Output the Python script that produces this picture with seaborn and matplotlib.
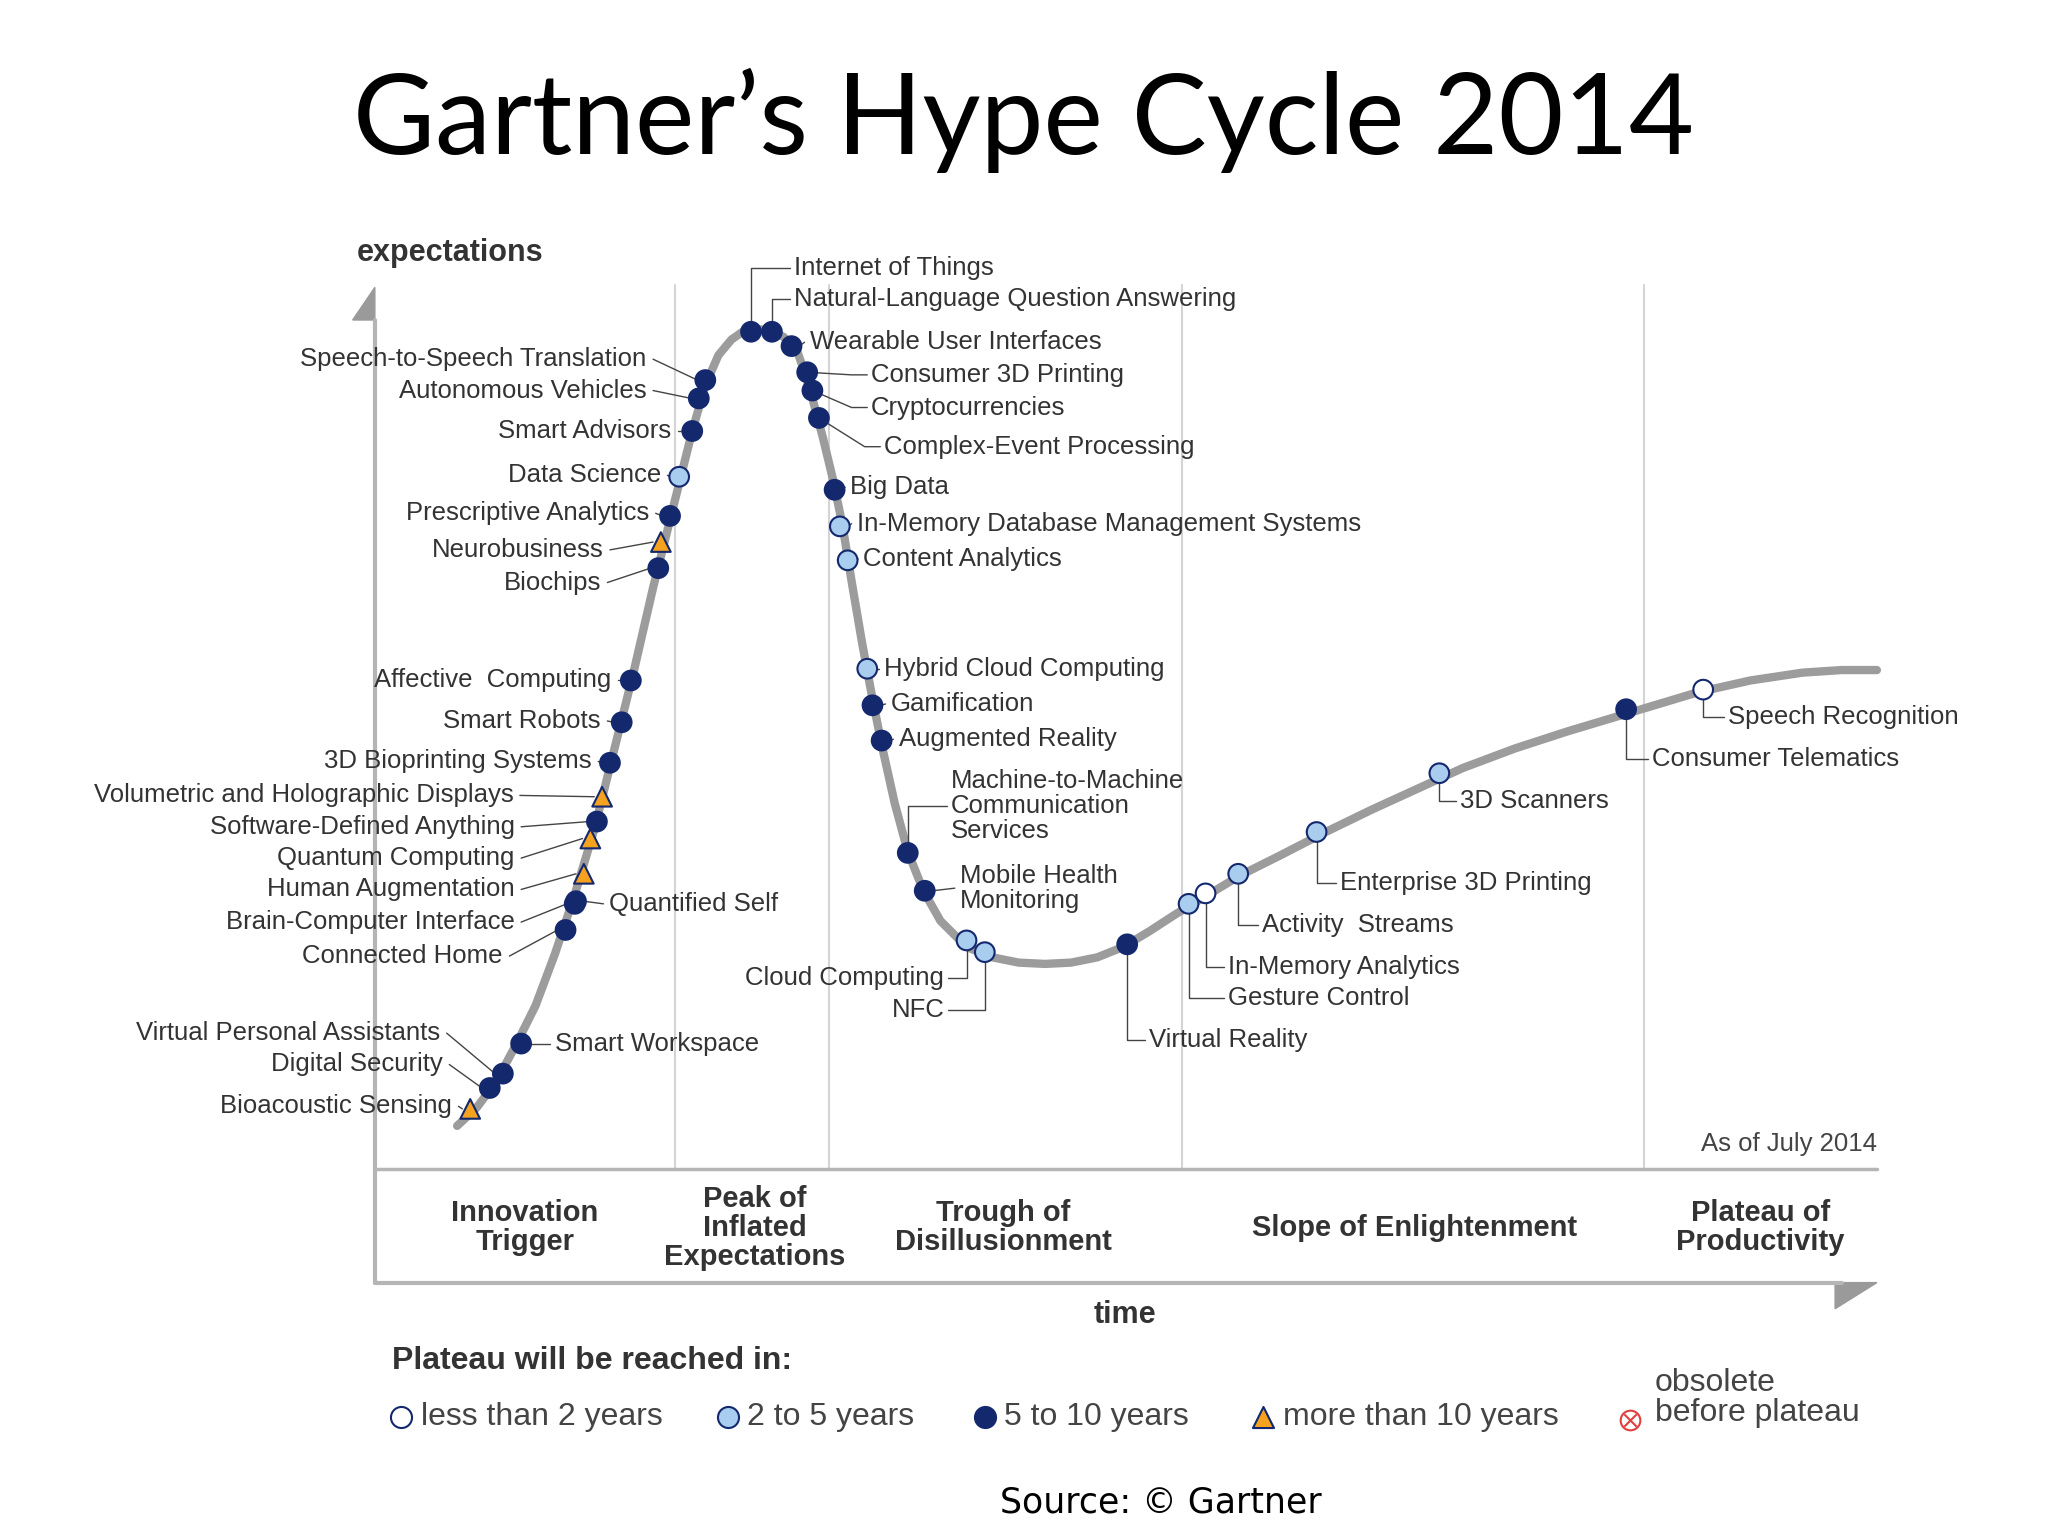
import matplotlib
matplotlib.use("Agg")
import matplotlib.pyplot as plt
import seaborn as sns
import pandas as pd

sns.set_theme(style="white")
plt.rcParams['font.family'] = ['Liberation Sans', 'DejaVu Sans']

# Hype curve anchor points (time, expectations) in chart units
curve_x = [350,365,380,395,410,425,440,455,470,485,500,510,520,530,540,550,560,570,580,590,600,610,615,622,630,638,645,652,660,668,675,685,695,707,720,740,760,780,800,820,840,860,880,900,920,950,980,1015,1050,1085,1120,1160,1200,1250,1300,1340,1380,1410,1437]
curve_y = [862,848,828,800,770,730,685,635,575,515,450,410,370,330,295,272,260,253,252,253,258,268,282,305,335,368,402,445,492,535,570,615,652,682,705,725,733,737,738,737,733,725,713,700,688,670,655,637,620,604,588,573,560,545,530,521,515,513,513]

names = ["Speech-to-Speech Translation","Autonomous Vehicles","Smart Advisors","Data Science",
         "Prescriptive Analytics","Neurobusiness","Biochips","Affective  Computing","Smart Robots",
         "3D Bioprinting Systems","Volumetric and Holographic Displays","Software-Defined Anything",
         "Quantum Computing","Human Augmentation","Brain-Computer Interface","Connected Home",
         "Virtual Personal Assistants","Digital Security","Bioacoustic Sensing","Quantified Self",
         "Smart Workspace","Internet of Things","Natural-Language Question Answering",
         "Wearable User Interfaces","Consumer 3D Printing","Cryptocurrencies","Complex-Event Processing",
         "Big Data","In-Memory Database Management Systems","Content Analytics","Hybrid Cloud Computing",
         "Gamification","Augmented Reality","Machine-to-Machine\nCommunication\nServices",
         "Mobile Health\nMonitoring","Cloud Computing","NFC","Virtual Reality","Gesture Control",
         "In-Memory Analytics","Activity  Streams","Enterprise 3D Printing","3D Scanners",
         "Consumer Telematics","Speech Recognition"]
pos_x = [540,535,530,520,513,506,504,483,476,467,461,457,452,447,440,433,385,375,360,441,399,
         575,591,606,618,622,627,639,643,649,664,668,675,695,708,740,754,863,910,923,948,1008,1102,1245,1304]
pos_y = [291,305,330,365,395,415,435,521,553,584,610,629,642,669,692,712,822,833,849,690,799,
         254,254,265,285,299,320,375,403,429,512,540,567,653,682,720,729,723,692,684,669,637,592,543,528]
plateau = ["5-10","5-10","5-10","2-5","5-10",">10","5-10","5-10","5-10","5-10",">10","5-10",">10",">10",
           "5-10","5-10","5-10","5-10",">10","5-10","5-10","5-10","5-10","5-10","5-10","5-10","5-10",
           "5-10","2-5","2-5","2-5","5-10","5-10","5-10","5-10","2-5","2-5","5-10","2-5","<2","2-5",
           "2-5","2-5","5-10","<2"]
lab = [(495,275,"L"),(495,299,"L"),(514,330,"L"),(506,364,"L"),(497,393,"L"),(462,421,"L"),(460,446,"L"),
       (468,521,"L"),(460,552,"L"),(453,583,"L"),(393,609,"L"),(394,633,"L"),(394,657,"L"),(394,681,"L"),
       (394,706,"L"),(385,732,"L"),(337,791,"L"),(339,815,"L"),(346,847,"L"),(466,692,"R"),(425,799,"R"),
       (608,205,"VR"),(608,229,"VR"),(620,262,"R"),(667,287,"VR2"),(667,312,"VR2"),(677,342,"VR2"),
       (651,373,"R"),(656,401,"R"),(661,428,"R"),(677,512,"R"),(682,539,"R"),(688,566,"R"),
       (728,617,"VR"),(735,680,"R"),(723,749,"VL"),(723,773,"VL"),(880,796,"VR"),(940,764,"VR"),
       (940,740,"VR"),(966,708,"VR"),(1026,676,"VR"),(1118,613,"VR"),(1265,581,"VR"),(1323,549,"VR")]

df = pd.DataFrame({"x": pos_x, "y": pos_y, "plateau": plateau})

phase_names = ["Innovation\nTrigger","Peak of\nInflated\nExpectations","Trough of\nDisillusionment",
               "Slope of Enlightenment","Plateau of\nProductivity"]
phase_x = [402,578,768,1083,1348]
separators = [517,635,905,1259]

fig = plt.figure(figsize=(20.48,15.36), dpi=100)
ax = fig.add_axes([0,0,1,1])

navy = "#14286e"
gray = "#b5b5b5"
for s in separators:
    ax.plot([s,s],[218,895],color="#d4d4d4",lw=1.5,zorder=1)
ax.plot([287,287],[245,982],color=gray,lw=3)
ax.fill([270,287,287],[245,220,245],color="#9a9a9a")
ax.plot([287,1410],[982,982],color=gray,lw=3)
ax.fill([1405,1437,1405],[982,982,1002],color="#9a9a9a")
ax.plot([287,1437],[895,895],color=gray,lw=2.5)
ax.plot(curve_x,curve_y,color="#9c9c9c",lw=6,solid_capstyle="round",zorder=2)

for (tx,ty,m),n,px,py in zip(lab,names,pos_x,pos_y):
    kw = dict(fontsize=18.5,color="#333333",va="center",linespacing=1.05)
    if m=="L":
        ax.plot([tx+5,px-6],[ty,py],color="#444",lw=1)
        ax.text(tx,ty,n,ha="right",**kw)
    elif m=="R":
        ax.plot([px+6,tx-4],[py,ty],color="#444",lw=1)
        ax.text(tx,ty,n,ha="left",**kw)
    elif m=="VR":
        ax.plot([px,px,tx-3],[py,ty,ty],color="#444",lw=1)
        ax.text(tx,ty,n,ha="left",**kw)
    elif m=="VR2":
        ax.plot([px,tx-15,tx-3],[py,ty,ty],color="#444",lw=1)
        ax.text(tx,ty,n,ha="left",**kw)
    elif m=="VL":
        ax.plot([px,px,tx+3],[py,ty,ty],color="#444",lw=1)
        ax.text(tx,ty,n,ha="right",**kw)

pal = {"<2":"white","2-5":"#a9cdee","5-10":navy,">10":"#f5a21e"}
mk = {"<2":"o","2-5":"o","5-10":"o",">10":"^"}
sns.scatterplot(data=df,x="x",y="y",hue="plateau",style="plateau",palette=pal,markers=mk,
                s=200,edgecolor=navy,linewidth=1.5,legend=False,ax=ax,zorder=5)

for n,x in zip(phase_names,phase_x):
    ax.text(x,940,n,ha="center",va="center",fontsize=21,fontweight="bold",color="#333",linespacing=1.05)
ax.text(1437,876,"As of July 2014",ha="right",va="center",fontsize=18.5,color="#444")
ax.text(273,194,"expectations",ha="left",va="center",fontsize=22,fontweight="bold",color="#333")
ax.text(861,1007,"time",ha="center",va="center",fontsize=22,fontweight="bold",color="#333")
ax.text(300,1042,"Plateau will be reached in:",ha="left",va="center",fontsize=23,fontweight="bold",color="#333")

leg_items = [(307,"o","white","less than 2 years"),(557,"o","#a9cdee","2 to 5 years"),
             (754,"o",navy,"5 to 10 years"),(967,"^","#f5a21e","more than 10 years")]
for x,m,c,t in leg_items:
    ax.scatter([x],[1085],marker=m,s=230,c=c,edgecolors=navy,linewidths=1.5,zorder=5)
    ax.text(x+15,1085,t,ha="left",va="center",fontsize=23,color="#444")
ax.scatter([1248],[1087],marker="o",s=200,c="white",edgecolors="#e04040",linewidths=1.5,zorder=5)
ax.scatter([1248],[1087],marker="x",s=80,c="#e04040",linewidths=1.5,zorder=6)
ax.text(1267,1070,"obsolete\nbefore plateau",ha="left",va="center",fontsize=23,color="#444",linespacing=1.0)

ax.text(784,92,"Gartner\u2019s Hype Cycle 2014",ha="center",va="center",fontsize=81,
        family=["Lato","DejaVu Sans"],color="black")
ax.text(889,1150,"Source: \u00a9 Gartner",ha="center",va="center",fontsize=25,
        family=["DejaVu Sans"],color="black")

ax.set_xlim(0,1568); ax.set_ylim(1176,0); ax.axis("off")
fig.savefig("out.png",dpi=100,facecolor="white")
